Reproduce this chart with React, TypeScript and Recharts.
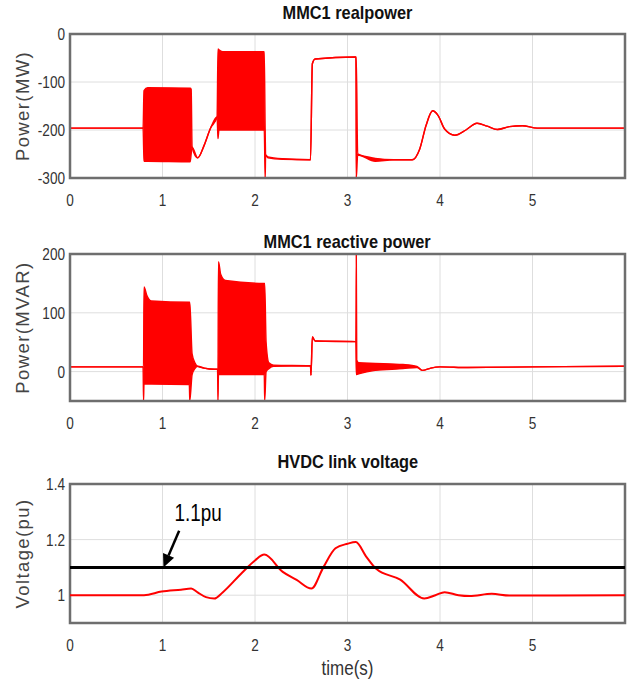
import React from 'react';
import {
  ComposedChart,
  Area,
  Line,
  XAxis,
  YAxis,
  CartesianGrid,
  ReferenceArea,
  ReferenceLine,
} from 'recharts';

const TIME_TICKS = [0, 1, 2, 3, 4, 5];

// MMC1 real power (MW) - lower / upper envelope of the trace
const realTime = [0, 0.79, 0.8, 0.84, 1.3, 1.31, 1.32, 1.38, 1.45, 1.52, 1.59, 1.6, 1.61, 1.65, 2.1, 2.11, 2.115, 2.14, 2.3, 2.6, 2.62, 2.65, 3.09, 3.095, 3.11, 3.3, 3.5, 3.7, 3.78, 3.85, 3.92, 3.98, 4.05, 4.16, 4.28, 4.4, 4.51, 4.62, 4.75, 4.89, 5.05, 6];
const realLow = [-196, -196, -265, -265, -266, -250, -236, -258, -232, -196, -173, -218, -200, -200, -200, -300, -252, -258, -261, -262, -62, -52, -48, -300, -252, -265, -262, -262, -240, -190, -160, -170, -198, -211, -200, -186, -192, -199, -193, -191, -196, -196];
const realHigh = [-196, -196, -118, -112, -113, -115, -236, -258, -232, -196, -173, -31, -33, -37, -37, -200, -252, -256, -260, -262, -62, -52, -48, -48, -250, -259, -262, -262, -240, -190, -160, -170, -198, -211, -200, -186, -192, -199, -193, -191, -196, -196];

// MMC1 reactive power (MVAR)
const reacTime = [0, 0.79, 0.795, 0.8, 0.83, 0.88, 1.29, 1.295, 1.32, 1.35, 1.38, 1.45, 1.56, 1.595, 1.6, 1.605, 1.63, 1.68, 2.1, 2.105, 2.12, 2.15, 2.2, 2.6, 2.605, 2.62, 2.65, 3.09, 3.095, 3.1, 3.12, 3.3, 3.6, 3.75, 3.81, 3.9, 4.0, 4.3, 5, 6];
const reacLow = [8, 8, -50, -21, -21, -21, -22, -50, -5, 5, 9, 6, 4, 4, -50, -5, -5, -5, -5, -50, 0, 5, 9, 10, -6, 59, 52, 51, -5, -5, -4, 2, 5, 7, 2, 6, 8, 7, 8, 9];
const reacHigh = [8, 8, 8, 144, 130, 120, 118, 118, 30, 15, 9, 6, 4, 4, 4, 187, 165, 155, 150, 150, 50, 15, 11, 10, -6, 59, 52, 51, 200, 20, 15, 14, 12, 9, 2, 6, 8, 7, 8, 9];

// HVDC link voltage (pu)
const voltTime = [0, 0.8, 0.99, 1.2, 1.31, 1.38, 1.47, 1.56, 1.65, 1.86, 2.0, 2.1, 2.3, 2.45, 2.61, 2.74, 2.87, 3.0, 3.09, 3.2, 3.31, 3.57, 3.83, 3.95, 4.05, 4.2, 4.32, 4.56, 4.75, 6];
const voltValue = [1.0, 1.0, 1.013, 1.02, 1.024, 1.01, 0.993, 0.988, 1.01, 1.081, 1.125, 1.146, 1.084, 1.055, 1.024, 1.101, 1.169, 1.185, 1.191, 1.14, 1.095, 1.056, 0.988, 1.0, 1.011, 1.0, 0.997, 1.005, 0.999, 1.0];
const voltLimit = 1.1;

const realData = realTime.map((t, i) => ({ t, v: [realLow[i], realHigh[i]] }));
const reacData = reacTime.map((t, i) => ({ t, v: [reacLow[i], reacHigh[i]] }));
const voltData = voltTime.map((t, i) => ({ t, v: voltValue[i] }));

const SANS = "'Liberation Sans', Arial, sans-serif";
const NARROW_SCALE = 0.8;
const RED = '#ff0000';
const FRAME = '#6e6e6e';
const GRID = '#dedede';

// Arial-Narrow look: Liberation Sans squeezed horizontally
const XTick = (props: any) => {
  const { x, y, payload } = props;
  return (
    <text transform={`translate(${x},${y}) scale(${NARROW_SCALE},1)`} dy="0.71em" textAnchor="middle" fontFamily={SANS} fontSize={17} fill="#333">
      {payload.value}
    </text>
  );
};

const YTick = (props: any) => {
  const { x, y, payload } = props;
  return (
    <text transform={`translate(${x},${y}) scale(${NARROW_SCALE},1)`} dy="0.36em" textAnchor="end" fontFamily={SANS} fontSize={17} fill="#333">
      {payload.value}
    </text>
  );
};

const Title = ({ top, children }: { top: number; children: string }) => (
  <div style={{ position: 'absolute', top, left: 70, width: 555, textAlign: 'center', lineHeight: '22px' }}>
    <span
      style={{
        display: 'inline-block',
        transform: 'scaleX(0.86)',
        fontFamily: SANS,
        fontWeight: 'bold',
        fontSize: 19,
        color: '#111',
        whiteSpace: 'nowrap',
      }}
    >
      {children}
    </span>
  </div>
);

const yLabel = (value: string) => ({
  value,
  angle: -90,
  position: 'insideLeft' as const,
  offset: 22,
  style: { textAnchor: 'middle', fontFamily: SANS, fontSize: 18.5, fill: '#444', letterSpacing: 1.4 },
});

const TimeLabel = (props: any) => {
  const { viewBox } = props;
  const cx = viewBox.x + viewBox.width / 2;
  return (
    <text transform={`translate(${cx},${viewBox.y + 52}) scale(0.85,1)`} textAnchor="middle" fontFamily={SANS} fontSize={20} fill="#333">
      time(s)
    </text>
  );
};

const ArrowShape = (props: any) => {
  const { x1, y1, x2, y2 } = props;
  const dx = x2 - x1;
  const dy = y2 - y1;
  const len = Math.sqrt(dx * dx + dy * dy) || 1;
  const ux = dx / len;
  const uy = dy / len;
  const hl = 13;
  const hw = 6;
  const bx = x2 - ux * hl;
  const by = y2 - uy * hl;
  return (
    <g>
      <line x1={x1} y1={y1} x2={bx} y2={by} stroke="#000" strokeWidth={2.5} />
      <polygon points={`${x2},${y2} ${bx - uy * hw},${by + ux * hw} ${bx + uy * hw},${by - ux * hw}`} fill="#000" />
      <text transform={`translate(${x1 + 19},${y1 - 10}) scale(0.82,1)`} textAnchor="middle" fontFamily={SANS} fontSize={23} fill="#000">
        1.1pu
      </text>
    </g>
  );
};

export default function App() {
  return (
    <div style={{ position: 'absolute', left: 0, top: 0, width: 635, height: 687, background: '#fff' }}>
      <Title top={2}>MMC1 realpower</Title>
      <Title top={231}>MMC1 reactive power</Title>
      <Title top={451}>HVDC link voltage</Title>

      <div style={{ position: 'absolute', left: 0, top: 0 }}>
        <ComposedChart width={635} height={230} data={realData} margin={{ top: 34, right: 10, bottom: 0, left: 0 }}>
          <CartesianGrid stroke={GRID} />
          <XAxis dataKey="t" type="number" domain={[0, 6]} ticks={TIME_TICKS} tickSize={0} tickMargin={16} axisLine={false} tick={<XTick />} height={52} />
          <YAxis type="number" domain={[-300, 0]} ticks={[-300, -200, -100, 0]} allowDataOverflow tickSize={0} tickMargin={5} axisLine={false} tick={<YTick />} width={70} label={yLabel('Power(MW)')} />
          <Area type="monotone" dataKey="v" stroke={RED} strokeWidth={1.4} fill={RED} fillOpacity={1} dot={false} activeDot={false} isAnimationActive={false} />
          <ReferenceArea x1={0} x2={6} y1={-300} y2={0} fill="none" stroke={FRAME} strokeWidth={2.5} ifOverflow="visible" />
        </ComposedChart>
      </div>

      <div style={{ position: 'absolute', left: 0, top: 230 }}>
        <ComposedChart width={635} height={223} data={reacData} margin={{ top: 24, right: 10, bottom: 0, left: 0 }}>
          <CartesianGrid stroke={GRID} />
          <XAxis dataKey="t" type="number" domain={[0, 6]} ticks={TIME_TICKS} tickSize={0} tickMargin={16} axisLine={false} tick={<XTick />} height={52} />
          <YAxis type="number" domain={[-50, 200]} ticks={[0, 100, 200]} allowDataOverflow tickSize={0} tickMargin={5} axisLine={false} tick={<YTick />} width={70} label={yLabel('Power(MVAR)')} />
          <Area type="monotone" dataKey="v" stroke={RED} strokeWidth={1.4} fill={RED} fillOpacity={1} dot={false} activeDot={false} isAnimationActive={false} />
          <ReferenceArea x1={0} x2={6} y1={-50} y2={200} fill="none" stroke={FRAME} strokeWidth={2.5} ifOverflow="visible" />
        </ComposedChart>
      </div>

      <div style={{ position: 'absolute', left: 0, top: 453 }}>
        <ComposedChart width={635} height={234} data={voltData} margin={{ top: 31, right: 10, bottom: 0, left: 0 }}>
          <CartesianGrid stroke={GRID} />
          <XAxis
            dataKey="t"
            type="number"
            domain={[0, 6]}
            ticks={TIME_TICKS}
            tickSize={0}
            tickMargin={16}
            axisLine={false}
            tick={<XTick />}
            height={64}
            label={<TimeLabel />}
          />
          <YAxis type="number" domain={[0.9, 1.4]} ticks={[1, 1.2, 1.4]} allowDataOverflow tickSize={0} tickMargin={5} axisLine={false} tick={<YTick />} width={70} label={yLabel('Voltage(pu)')} />
          <Line type="monotone" dataKey="v" stroke={RED} strokeWidth={2} dot={false} activeDot={false} isAnimationActive={false} />
          <ReferenceLine y={voltLimit} stroke="#000" strokeWidth={3} />
          <ReferenceLine segment={[{ x: 1.18, y: 1.232 }, { x: 1.01, y: voltLimit }]} shape={ArrowShape} ifOverflow="visible" />
          <ReferenceArea x1={0} x2={6} y1={0.9} y2={1.4} fill="none" stroke={FRAME} strokeWidth={2.5} ifOverflow="visible" />
        </ComposedChart>
      </div>
    </div>
  );
}
